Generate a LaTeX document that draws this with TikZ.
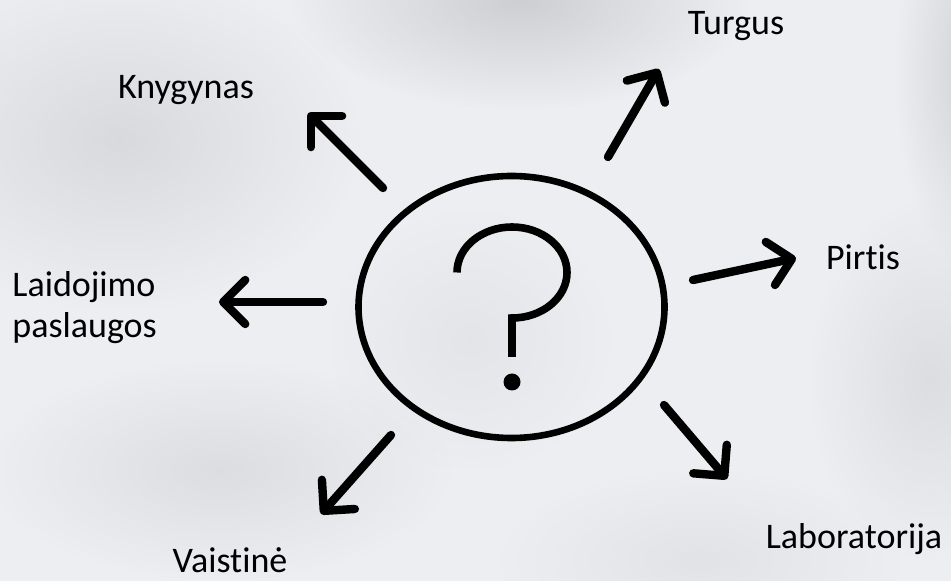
\documentclass[tikz,border=0pt]{standalone}
\usepackage{fontspec}
\setmainfont[Ligatures=NoCommon]{Carlito}
\usetikzlibrary{arrows.meta,shapes.geometric,fadings}
\tikzfading[name=softblob, inner color=transparent!0, outer color=transparent!100]
\definecolor{bgbase}{RGB}{237,238,241}
\definecolor{blobdark}{RGB}{180,181,186}
\definecolor{blobmid}{RGB}{200,201,205}
\tikzset{
  arr/.style={line width=4.2pt, line cap=round,
    -{Straight Barb[length=11pt, width=22pt, round]}},
  lbl/.style={inner sep=0pt, anchor=base, font=\fontsize{18}{20.5}\selectfont},
  blob/.style={path fading=softblob, opacity=#1},
}
\begin{document}
\begin{tikzpicture}[x=0.5pt, y=-0.5pt]
% background
\fill[bgbase] (0,0) rectangle (951,581);
\useasboundingbox (0,0) rectangle (951,581);
\begin{scope}
\clip (0,0) rectangle (951,581);
\fill[blobdark, blob=0.55] (520,0) ellipse [x radius=230, y radius=110];
\fill[blobmid, blob=0.55] (120,140) ellipse [x radius=240, y radius=170];
\fill[blobmid, blob=0.45] (220,470) ellipse [x radius=230, y radius=110];
\fill[blobdark, blob=0.5] (975,70) ellipse [x radius=80, y radius=200];
\fill[blobmid, blob=0.45] (930,380) ellipse [x radius=120, y radius=180];
\fill[blobmid, blob=0.3] (700,560) ellipse [x radius=200, y radius=90];
\fill[blobmid, blob=0.25] (470,340) ellipse [x radius=140, y radius=130];
\end{scope}

% central ellipse with question mark
\node[draw=black, line width=3.3pt, ellipse, inner sep=0pt,
      minimum width=153pt, minimum height=131pt] (q) at (511.5,307) {};
\draw[line width=3.8pt] (457,272.5) arc[start angle=180, end angle=450, x radius=55, y radius=45.5]
   -- ++(0,39);
\fill (512,382) circle[radius=8.5];

% labels
\node[lbl] (turgus) at (736,35) {Turgus};
\node[lbl] (knyg) at (186,99) {Knygynas};
\node[lbl] (pirtis) at (863,270) {Pirtis};
\node[lbl, anchor=base west, align=left] (laid) at (12,338) {Laidojimo\\paslaugos};
\node[lbl] (labor) at (854,548) {Laboratorija};
\node[lbl] (vaist) at (230,572) {Vaistinė};

% arrow end points
\coordinate (t1) at (383,188); \coordinate (h1) at (308,113);
\coordinate (t2) at (608,157); \coordinate (h2) at (659,69);
\coordinate (t3) at (693,280); \coordinate (h3) at (796,258);
\coordinate (t4) at (664,405); \coordinate (h4) at (727,479);
\coordinate (t5) at (391,435); \coordinate (h5) at (321,514);
\coordinate (t6) at (323,302); \coordinate (h6) at (219,302);

\draw[arr] (t1) -- (h1);
\draw[arr] (t2) -- (h2);
\draw[arr] (t3) -- (h3);
\draw[arr] (t4) -- (h4);
\draw[arr] (t5) -- (h5);
\draw[arr] (t6) -- (h6);
\end{tikzpicture}
\end{document}
